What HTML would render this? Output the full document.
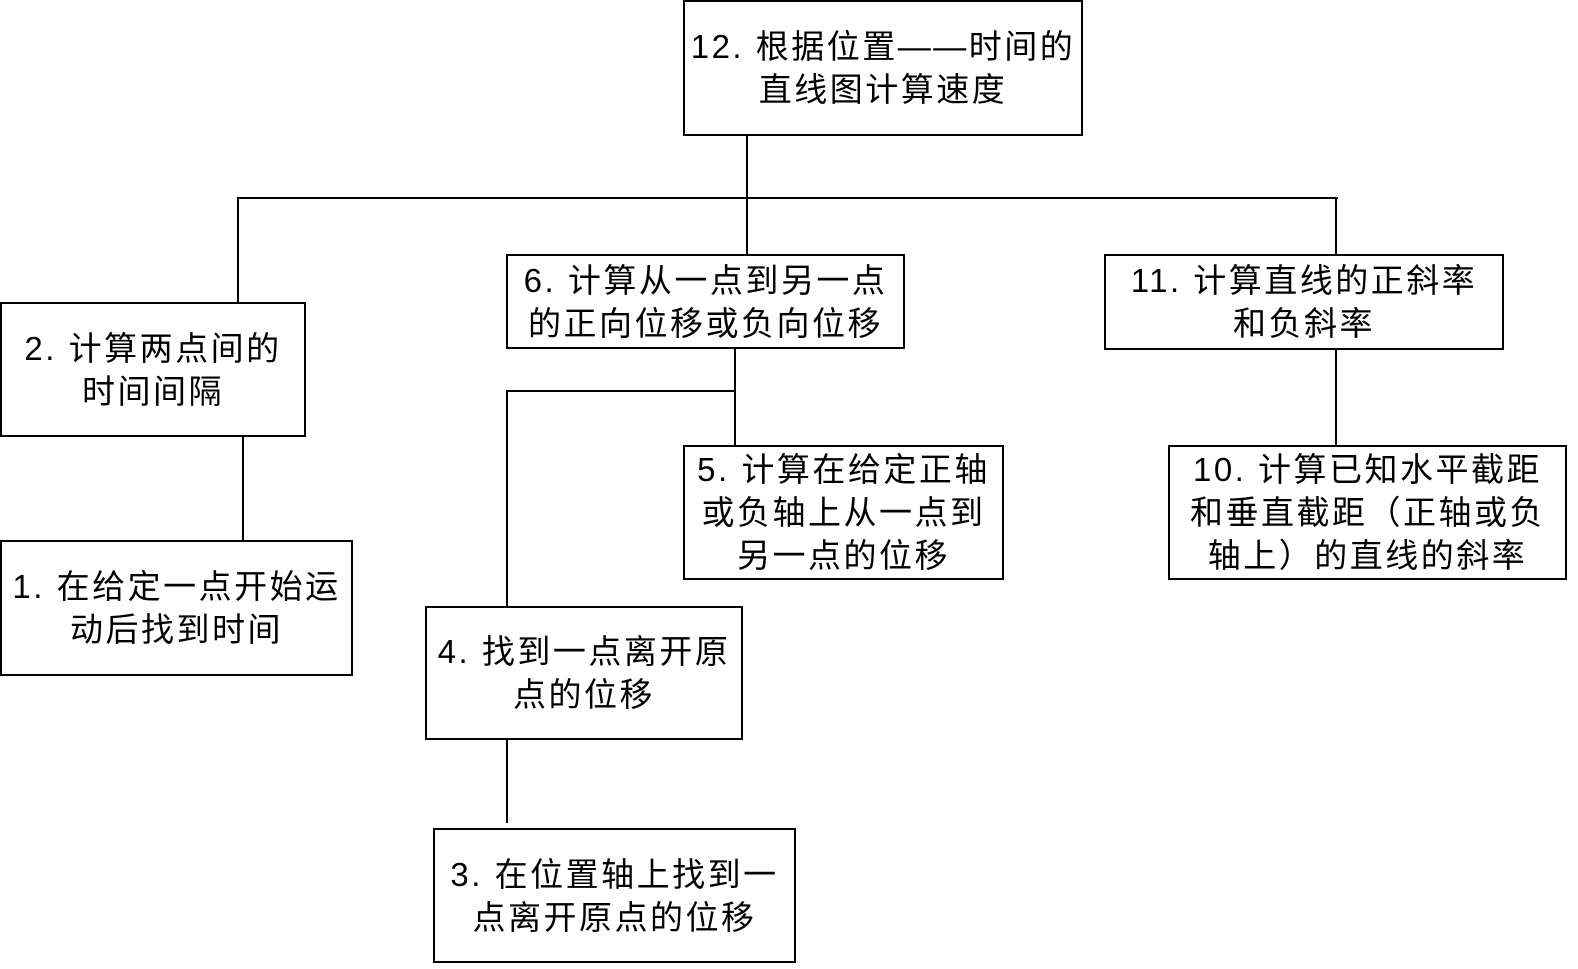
<!DOCTYPE html>
<html><head><meta charset="utf-8"><style>
html,body{margin:0;padding:0;background:#fff;}
body{width:1578px;height:969px;position:relative;overflow:hidden;font-family:"Liberation Sans","Noto Sans CJK SC",sans-serif;}
.b{position:absolute;border:2px solid #000;box-sizing:border-box;display:flex;align-items:center;justify-content:center;text-align:center;font-size:33px;letter-spacing:2.5px;line-height:43px;color:#000;background:#fff;white-space:nowrap;}
.h{position:absolute;height:2px;background:#000;}
.v{position:absolute;width:2px;background:#000;}
</style></head><body>
<div class="v" style="left:746px;top:135px;height:120px"></div>
<div class="h" style="left:237px;top:197px;width:1101px"></div>
<div class="v" style="left:237px;top:197px;height:106px"></div>
<div class="v" style="left:1335px;top:197px;height:58px"></div>
<div class="v" style="left:242px;top:436px;height:106px"></div>
<div class="v" style="left:734px;top:348px;height:98px"></div>
<div class="h" style="left:506px;top:390px;width:230px"></div>
<div class="v" style="left:506px;top:390px;height:217px"></div>
<div class="v" style="left:506px;top:739px;height:84px"></div>
<div class="v" style="left:1335px;top:349px;height:97px"></div>

<div class="b" style="left:683px;top:0px;width:400px;height:136px">12. 根据位置——时间的<br>直线图计算速度</div>
<div class="b" style="left:0px;top:302px;width:306px;height:135px">2. 计算两点间的<br>时间间隔</div>
<div class="b" style="left:0px;top:540px;width:353px;height:136px">1. 在给定一点开始运<br>动后找到时间</div>
<div class="b" style="left:506px;top:254px;width:399px;height:95px">6. 计算从一点到另一点<br>的正向位移或负向位移</div>
<div class="b" style="left:683px;top:445px;width:321px;height:135px">5. 计算在给定正轴<br>或负轴上从一点到<br>另一点的位移</div>
<div class="b" style="left:425px;top:606px;width:318px;height:134px">4. 找到一点离开原<br>点的位移</div>
<div class="b" style="left:433px;top:828px;width:363px;height:135px">3. 在位置轴上找到一<br>点离开原点的位移</div>
<div class="b" style="left:1104px;top:254px;width:400px;height:96px">11. 计算直线的正斜率<br>和负斜率</div>
<div class="b" style="left:1168px;top:445px;width:399px;height:135px">10. 计算已知水平截距<br>和垂直截距（正轴或负<br>轴上）的直线的斜率</div>
</body></html>
